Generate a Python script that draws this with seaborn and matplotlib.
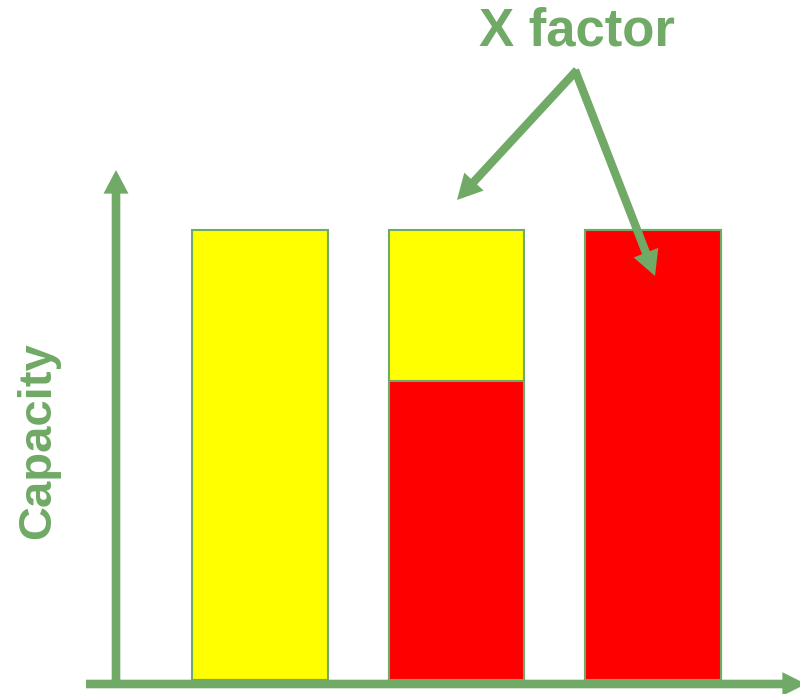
import matplotlib
matplotlib.use("Agg")
import matplotlib.pyplot as plt
import seaborn as sns
import pandas as pd

# Capacity per option (fraction of the full capacity)
options = ["Current", "Mixed", "New"]
total_capacity = [1.0, 1.0, 1.0]
new_capacity = [0.0, 0.665, 1.0]

GREEN = "#70AA66"
YELLOW = "#FFFF00"
RED = "#FF0000"

sns.set_theme(style="white")
plt.rcParams["font.family"] = ["Liberation Sans", "DejaVu Sans"]

W, H = 800, 694
fig = plt.figure(figsize=(W / 100, H / 100), dpi=100)
ax = fig.add_axes([0, 0, 1, 1])

df = pd.DataFrame({"option": options, "total": total_capacity, "new": new_capacity})

bar_kw = dict(width=0.692, edgecolor=GREEN, linewidth=1.5, ax=ax, zorder=2)
sns.barplot(data=df, x="option", y="total", color=YELLOW, saturation=1, **bar_kw)
sns.barplot(data=df, x="option", y="new", color=RED, saturation=1, **bar_kw)

# map the plot area so bars sit in the drawing region
ax.set_xlim(-1.323, 2.748)
ax.set_ylim(-14 / 450, 680 / 450)
ax.set_axis_off()


def arrow(x0, y0, x1, y1, tail=6.2, head_w=18, head_l=17):
    ax.annotate(
        "", xy=(x1, H - y1), xytext=(x0, H - y0),
        xycoords="figure pixels", textcoords="figure pixels",
        arrowprops=dict(
            arrowstyle=f"simple,head_length={head_l / 10},head_width={head_w / 10},tail_width={tail / 10}",
            mutation_scale=10, color=GREEN, shrinkA=0, shrinkB=0, lw=0,
        ),
        zorder=5,
    )


# axis arrows
arrow(116, 688, 116, 170)
arrow(86, 684, 806, 684, head_w=17)

# annotation arrows
arrow(577, 70, 457, 200, tail=6.0, head_w=19, head_l=18)
arrow(575, 70, 655, 276, tail=6.0, head_w=19, head_l=18)

fig.text(577 / W, 1 - 31 / H, "X factor", color=GREEN, fontsize=38,
         fontweight="bold", ha="center", va="center")
fig.text(38 / W, 1 - 441 / H, "Capacity", color=GREEN, fontsize=34,
         fontweight="bold", ha="center", va="center", rotation=90)

fig.savefig("out.png", dpi=100)
